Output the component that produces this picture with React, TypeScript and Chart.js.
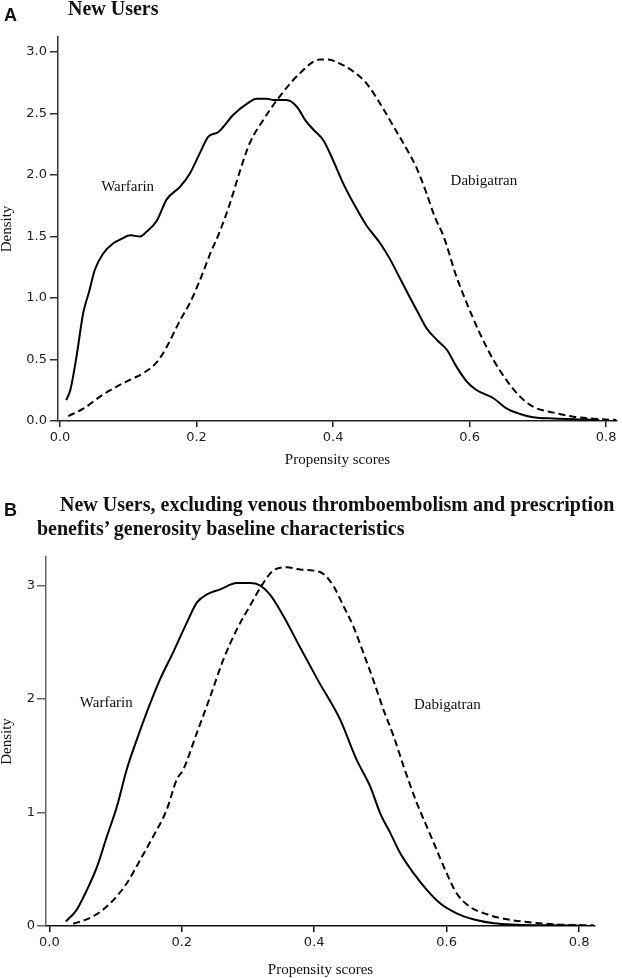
import React, { useEffect, useRef } from "react";
import { Chart, registerables } from "chart.js";

Chart.register(...registerables);

// ---------- Panel A data ----------
const A_X_TICKS = [0, 0.2, 0.4, 0.6, 0.8];
const A_Y_TICKS = [0, 0.5, 1, 1.5, 2, 2.5, 3];

const A_WARFARIN_X = [0.009, 0.015, 0.024, 0.034, 0.042, 0.051, 0.063, 0.078, 0.09, 0.103, 0.117, 0.127, 0.142, 0.156, 0.176, 0.19, 0.205, 0.217, 0.232, 0.254, 0.274, 0.288, 0.303, 0.313, 0.332, 0.347, 0.36, 0.371, 0.386, 0.4, 0.415, 0.43, 0.449, 0.469, 0.484, 0.498, 0.513, 0.525, 0.537, 0.552, 0.567, 0.581, 0.596, 0.61, 0.635, 0.654, 0.674, 0.693, 0.723, 0.766, 0.79];
const A_WARFARIN_Y = [0.17, 0.25, 0.52, 0.88, 1.04, 1.23, 1.36, 1.445, 1.48, 1.51, 1.5, 1.54, 1.63, 1.8, 1.905, 2.01, 2.18, 2.31, 2.35, 2.49, 2.58, 2.62, 2.62, 2.61, 2.61, 2.555, 2.44, 2.37, 2.28, 2.12, 1.93, 1.77, 1.59, 1.445, 1.31, 1.16, 1.0, 0.876, 0.754, 0.66, 0.577, 0.44, 0.32, 0.252, 0.185, 0.103, 0.057, 0.03, 0.02, 0.012, 0.008];

const A_DABIGATRAN_X = [0.012, 0.034, 0.059, 0.083, 0.107, 0.122, 0.142, 0.156, 0.176, 0.19, 0.205, 0.22, 0.234, 0.249, 0.264, 0.278, 0.298, 0.322, 0.352, 0.381, 0.392, 0.4, 0.43, 0.449, 0.469, 0.488, 0.508, 0.523, 0.537, 0.549, 0.562, 0.581, 0.596, 0.615, 0.635, 0.654, 0.674, 0.693, 0.723, 0.752, 0.781, 0.815];
const A_DABIGATRAN_Y = [0.04, 0.1, 0.2, 0.28, 0.347, 0.388, 0.48, 0.6, 0.82, 0.957, 1.146, 1.36, 1.54, 1.77, 2.04, 2.26, 2.45, 2.64, 2.83, 2.94, 2.94, 2.93, 2.84, 2.745, 2.58, 2.4, 2.21, 2.05, 1.85, 1.66, 1.5, 1.17, 0.957, 0.713, 0.496, 0.333, 0.198, 0.116, 0.068, 0.035, 0.019, 0.008];

// ---------- Panel B data ----------
const B_X_TICKS = [0, 0.2, 0.4, 0.6, 0.8];
const B_Y_TICKS = [0, 1, 2, 3];

const B_WARFARIN_X = [0.025, 0.041, 0.057, 0.072, 0.087, 0.102, 0.117, 0.132, 0.147, 0.167, 0.187, 0.2075, 0.223, 0.238, 0.258, 0.283, 0.303, 0.318, 0.333, 0.3535, 0.379, 0.407, 0.439, 0.464, 0.4845, 0.4995, 0.515, 0.53, 0.55, 0.57, 0.59, 0.615, 0.64, 0.671, 0.706, 0.756, 0.806];
const B_WARFARIN_Y = [0.04, 0.14, 0.32, 0.52, 0.79, 1.05, 1.38, 1.64, 1.88, 2.17, 2.41, 2.67, 2.85, 2.92, 2.965, 3.02, 3.02, 3.0, 2.92, 2.73, 2.45, 2.15, 1.82, 1.465, 1.23, 0.995, 0.818, 0.64, 0.465, 0.318, 0.2, 0.112, 0.059, 0.024, 0.012, 0.006, 0.003];

const B_DABIGATRAN_X = [0.036, 0.057, 0.077, 0.097, 0.117, 0.137, 0.157, 0.177, 0.1925, 0.2025, 0.2227, 0.243, 0.263, 0.283, 0.303, 0.323, 0.338, 0.3586, 0.379, 0.399, 0.414, 0.429, 0.444, 0.459, 0.474, 0.489, 0.5045, 0.52, 0.535, 0.555, 0.57, 0.585, 0.6, 0.615, 0.635, 0.661, 0.691, 0.731, 0.771, 0.822];
const B_DABIGATRAN_Y = [0.02, 0.06, 0.126, 0.23, 0.377, 0.58, 0.79, 1.02, 1.29, 1.38, 1.7, 2.02, 2.35, 2.61, 2.82, 3.02, 3.13, 3.16, 3.14, 3.13, 3.1, 2.995, 2.82, 2.64, 2.41, 2.17, 1.906, 1.67, 1.406, 1.083, 0.876, 0.67, 0.465, 0.288, 0.17, 0.103, 0.059, 0.029, 0.012, 0.006];

const SERIES_NAMES = ["Warfarin", "Dabigatran"];

const A_LABEL_ANCHORS = [
  { text: "Warfarin", x: 0.099, y: 1.9 },
  { text: "Dabigatran", x: 0.621, y: 1.95 },
];
const B_LABEL_ANCHORS = [
  { text: "Warfarin", x: 0.086, y: 1.96 },
  { text: "Dabigatran", x: 0.601, y: 1.95 },
];

const SERIF = '"Liberation Serif", "Times New Roman", serif';
const SANS = '"DejaVu Sans", Verdana, sans-serif';
const BOLD_SANS = '"Liberation Sans", Arial, sans-serif';

const zip = (xs: number[], ys: number[]) => xs.map((x, i) => ({ x, y: ys[i] }));

const curveLabels = {
  id: "curveLabels",
  afterDatasetsDraw(chart: any, _args: any, opts: any) {
    const { ctx } = chart;
    const xs = chart.scales.x;
    const ys = chart.scales.y;
    ctx.save();
    ctx.font = `15px ${SERIF}`;
    ctx.fillStyle = "#111";
    ctx.textAlign = "center";
    ctx.textBaseline = "middle";
    (opts.items || []).forEach((it: any) => {
      ctx.fillText(it.text, xs.getPixelForValue(it.x), ys.getPixelForValue(it.y));
    });
    ctx.restore();
  },
};

type PanelProps = {
  top: number;
  height: number;
  padTop: number;
  padRight: number;
  yWidth: number;
  xHeight: number;
  xMin: number;
  xMax: number;
  yMax: number;
  xTicks: number[];
  yTicks: number[];
  yDecimals: number;
  yTickLen: number;
  yTickPad: number;
  axisColorX: string;
  axisColorY: string;
  warX: number[];
  warY: number[];
  dabX: number[];
  dabY: number[];
  labels: { text: string; x: number; y: number }[];
};

function Panel(p: PanelProps) {
  const ref = useRef<HTMLCanvasElement | null>(null);
  useEffect(() => {
    if (!ref.current) return;
    const chart = new Chart(ref.current, {
      type: "scatter",
      data: {
        datasets: [
          {
            label: SERIES_NAMES[0],
            data: zip(p.warX, p.warY),
            showLine: true,
            borderColor: "#000",
            borderWidth: 2,
            pointRadius: 0,
            cubicInterpolationMode: "monotone",
          },
          {
            label: SERIES_NAMES[1],
            data: zip(p.dabX, p.dabY),
            showLine: true,
            borderColor: "#000",
            borderWidth: 2,
            borderDash: [7, 4],
            pointRadius: 0,
            cubicInterpolationMode: "monotone",
          },
        ],
      },
      options: {
        animation: false,
        responsive: false,
        devicePixelRatio: 1,
        layout: { padding: { left: 0, right: p.padRight, top: p.padTop, bottom: 0 } },
        plugins: {
          legend: { display: false },
          tooltip: { enabled: false },
          title: { display: false },
          curveLabels: { items: p.labels },
        } as any,
        scales: {
          x: {
            type: "linear",
            min: p.xMin,
            max: p.xMax,
            afterBuildTicks: (s: any) => {
              s.ticks = p.xTicks.map((v) => ({ value: v }));
            },
            afterFit: (s: any) => {
              s.height = p.xHeight;
            },
            ticks: {
              callback: (v: any) => Number(v).toFixed(1),
              font: { family: SANS, size: 13 },
              color: "#222",
              padding: 3,
              maxRotation: 0,
              autoSkip: false,
            },
            grid: {
              display: true,
              drawOnChartArea: false,
              drawTicks: true,
              tickLength: 6,
              color: p.axisColorX,
              lineWidth: 1.5,
            },
            border: { display: true, color: p.axisColorX, width: 1.5 },
            title: {
              display: true,
              text: "Propensity scores",
              font: { family: SERIF, size: 15, lineHeight: 1 },
              color: "#111",
              padding: 0,
            },
          },
          y: {
            type: "linear",
            min: 0,
            max: p.yMax,
            afterBuildTicks: (s: any) => {
              s.ticks = p.yTicks.map((v) => ({ value: v }));
            },
            afterFit: (s: any) => {
              s.width = p.yWidth;
            },
            ticks: {
              callback: (v: any) => Number(v).toFixed(p.yDecimals),
              font: { family: SANS, size: 13 },
              color: "#222",
              padding: p.yTickPad,
              autoSkip: false,
            },
            grid: {
              display: true,
              drawOnChartArea: false,
              drawTicks: true,
              tickLength: p.yTickLen,
              color: p.axisColorY,
              lineWidth: 1.5,
            },
            border: { display: true, color: p.axisColorY, width: 1.5 },
            title: {
              display: true,
              text: "Density",
              font: { family: SERIF, size: 15, lineHeight: 1 },
              color: "#111",
              padding: 0,
            },
          },
        },
      } as any,
      plugins: [curveLabels as any],
    });
    return () => chart.destroy();
  }, []);
  return (
    <canvas
      ref={ref}
      width={622}
      height={p.height}
      style={{ position: "absolute", left: 0, top: p.top, width: 622, height: p.height }}
    />
  );
}

const textStyle = (left: number, top: number, size: number, family: string): React.CSSProperties => ({
  position: "absolute",
  left,
  top,
  fontSize: size,
  lineHeight: `${size}px`,
  fontFamily: family,
  fontWeight: "bold",
  color: "#111",
  whiteSpace: "pre",
});

export default function App() {
  return (
    <div
      style={{
        position: "absolute",
        left: 0,
        top: 0,
        width: 622,
        height: 978,
        background: "#fff",
        overflow: "hidden",
      }}
    >
      <Panel
        top={0}
        height={468}
        padTop={37}
        padRight={5}
        yWidth={58}
        xHeight={47}
        xMin={-0.003}
        xMax={0.816}
        yMax={3.122}
        xTicks={A_X_TICKS}
        yTicks={A_Y_TICKS}
        yDecimals={1}
        yTickLen={8}
        yTickPad={3}
        axisColorX="#222"
        axisColorY="#333"
        warX={A_WARFARIN_X}
        warY={A_WARFARIN_Y}
        dabX={A_DABIGATRAN_X}
        dabY={A_DABIGATRAN_Y}
        labels={A_LABEL_ANCHORS}
      />
      <Panel
        top={470}
        height={508}
        padTop={87}
        padRight={27}
        yWidth={46}
        xHeight={52}
        xMin={-0.005}
        xMax={0.824}
        yMax={3.25}
        xTicks={B_X_TICKS}
        yTicks={B_Y_TICKS}
        yDecimals={0}
        yTickLen={9}
        yTickPad={2}
        axisColorX="#111"
        axisColorY="#666"
        warX={B_WARFARIN_X}
        warY={B_WARFARIN_Y}
        dabX={B_DABIGATRAN_X}
        dabY={B_DABIGATRAN_Y}
        labels={B_LABEL_ANCHORS}
      />
      <div style={textStyle(4, 6, 18, BOLD_SANS)}>A</div>
      <div style={textStyle(68, -2, 20, SERIF)}>New Users</div>
      <div style={textStyle(4, 501, 18, BOLD_SANS)}>B</div>
      <div style={textStyle(60, 494, 20, SERIF)}>
        {"New Users, excluding venous thromboembolism and prescription"}
      </div>
      <div style={textStyle(37, 518, 20, SERIF)}>
        {"benefits\u2019 generosity baseline characteristics"}
      </div>
    </div>
  );
}
